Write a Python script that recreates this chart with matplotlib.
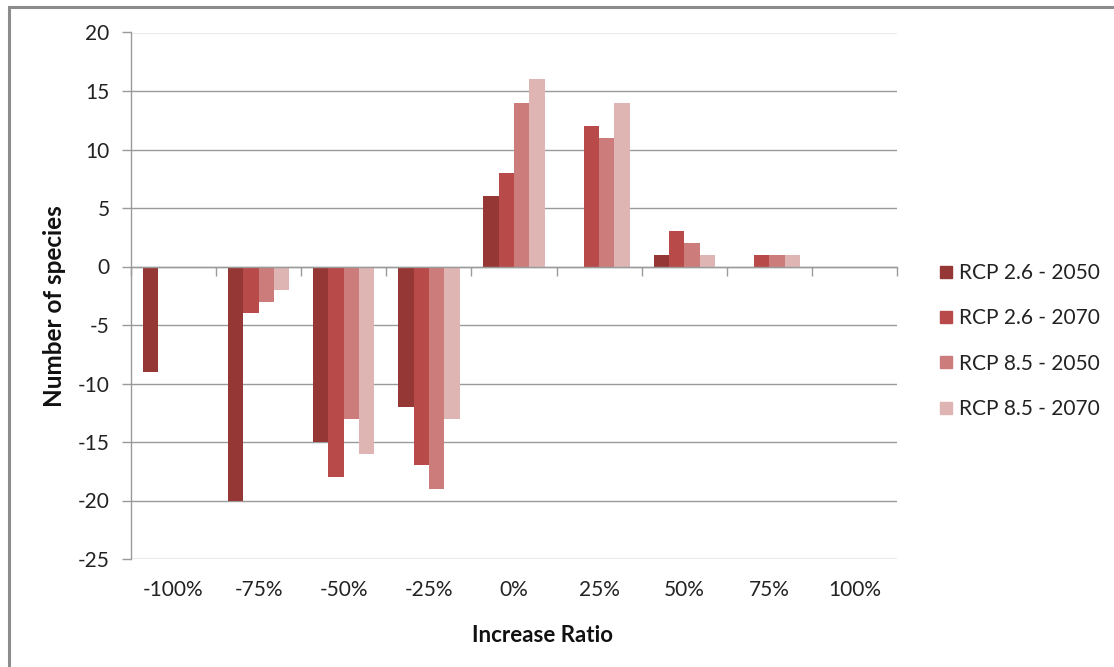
import matplotlib
matplotlib.use("Agg")
import matplotlib.pyplot as plt
import numpy as np
from matplotlib.patches import Rectangle
from matplotlib.lines import Line2D

# Data
categories = ["-100%", "-75%", "-50%", "-25%", "0%", "25%", "50%", "75%", "100%"]
series_names = ["RCP 2.6 - 2050", "RCP 2.6 - 2070", "RCP 8.5 - 2050", "RCP 8.5 - 2070"]
rcp26_2050 = [-9, -20, -15, -12, 6, 0, 1, 0, 0]
rcp26_2070 = [0, -4, -18, -17, 8, 12, 3, 1, 0]
rcp85_2050 = [0, -3, -13, -19, 14, 11, 2, 1, 0]
rcp85_2070 = [0, -2, -16, -13, 16, 14, 1, 1, 0]
colors = ["#953735", "#B84A49", "#CB7C7B", "#DFB5B4"]
y_ticks = list(range(-25, 21, 5))

plt.rcParams["font.family"] = ["Lato", "DejaVu Sans"]

W, H = 1114, 667
fig = plt.figure(figsize=(W / 100, H / 100), dpi=100)
fig.patch.set_facecolor("white")

def px_x(x):
    return x / W

def px_y(y):
    return 1 - y / H

left, right, top, bottom = 131, 897, 32.5, 559
ax = fig.add_axes([px_x(left), px_y(bottom), (right - left) / W, (bottom - top) / H])

grid_c = "#9A9A9A"
tick_fs = 15.0
x = np.arange(len(categories))
width = 0.18
all_series = [rcp26_2050, rcp26_2070, rcp85_2050, rcp85_2070]
handles = []
for i, (vals, c, name) in enumerate(zip(all_series, colors, series_names)):
    offs = (i - 1.5) * width
    ax.bar(x + offs, vals, width=width, color=c, zorder=3, linewidth=0)
    handles.append(Line2D([], [], marker="s", linestyle="none", markersize=8,
                          markerfacecolor=c, markeredgecolor=c, label=name))

ax.set_xlim(-0.5, len(categories) - 0.5)
ax.set_ylim(-25, 20)
ax.set_yticks(y_ticks)
ax.set_yticklabels([str(v) for v in y_ticks], fontsize=tick_fs, color="#222222")
ax.yaxis.grid(True, color=grid_c, linewidth=1.0, zorder=0)
ax.set_axisbelow(True)

for s in ["top", "right"]:
    ax.spines[s].set_visible(False)
ax.spines["left"].set_color(grid_c)
ax.spines["left"].set_linewidth(1.0)
ax.spines["bottom"].set_position(("data", 0))
ax.spines["bottom"].set_color(grid_c)
ax.spines["bottom"].set_linewidth(1.0)
ax.spines["bottom"].set_zorder(4)

ax.tick_params(axis="y", direction="out", length=6.5, width=1.0, color=grid_c, pad=9)
# Category boundary ticks along the zero line
ax.set_xticks(np.arange(-0.5, len(categories), 1.0))
ax.set_xticklabels([])
ax.tick_params(axis="x", direction="out", length=6.5, width=1.0, color=grid_c)

# Category labels along the bottom of the plot area
sec = ax.secondary_xaxis("bottom")
sec.set_xticks(x)
sec.set_xticklabels(categories, fontsize=tick_fs, color="#222222")
sec.tick_params(length=0, pad=15)
sec.spines["bottom"].set_visible(False)

fig.text(px_x(542), px_y(635), "Increase Ratio", fontsize=16, fontweight="bold",
         ha="center", va="center", color="#111111")
fig.text(px_x(55), px_y(306), "Number of species", fontsize=17.5, fontweight="bold",
         rotation=90, ha="center", va="center", color="#111111")

fig.legend(handles=handles, loc="center left", bbox_to_anchor=(px_x(927), px_y(341)),
           frameon=False, fontsize=tick_fs, handletextpad=0.15, labelspacing=1.22,
           handlelength=1.0, borderaxespad=0, labelcolor="#222222")

# Outer chart frame
fig.patches.append(Rectangle((px_x(8.5), px_y(700)), px_x(1120) - px_x(8.5),
                             px_y(7) - px_y(700), transform=fig.transFigure,
                             fill=False, edgecolor="#8C8C8C", linewidth=2.2, zorder=0))

fig.savefig("out.png", dpi=100, facecolor="white")
